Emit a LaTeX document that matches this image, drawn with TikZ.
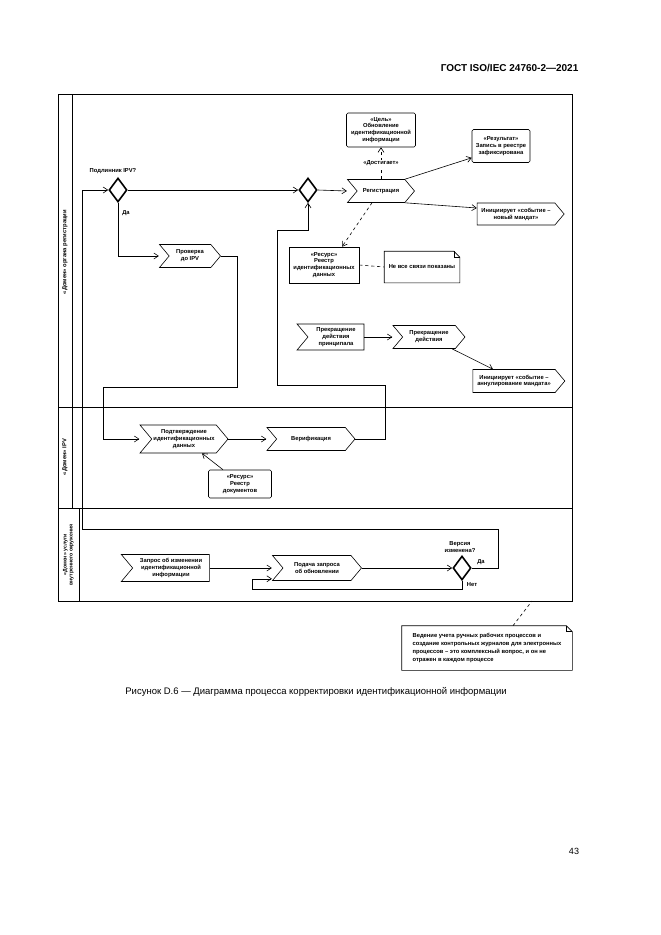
\documentclass[tikz,border=0pt]{standalone}
\usepackage{fontspec}
\setmainfont{Liberation Sans}
\usepackage{tikz}
\usetikzlibrary{shapes.geometric,shapes.symbols,arrows.meta,positioning}
\newcommand{\dfont}{\fontsize{5.8}{6.9}\selectfont\bfseries}
\newcommand{\notefold}[1]{%
  \draw (#1.north west) -- ([xshift=-6pt]#1.north east) -- ([yshift=-6pt]#1.north east) -- (#1.south east) -- (#1.south west) -- cycle;
  \draw ([xshift=-6pt]#1.north east) |- ([yshift=-6pt]#1.north east);}
\tikzset{
  flow/.style={-{Straight Barb[length=4.5pt,width=6pt]}},
  dep/.style={dashed,-{Straight Barb[length=4.5pt,width=6pt]}},
  act/.style={signal, signal from=west, signal to=east, signal pointer angle=100, draw, inner sep=1pt},
  recv/.style={signal, signal from=west, signal to=nowhere, signal pointer angle=100, draw, inner sep=1pt},
  send/.style={signal, signal from=nowhere, signal to=east, signal pointer angle=100, draw, inner sep=1pt},
  obj/.style={draw, rounded corners=1.5pt, inner sep=1pt},
  dec/.style={diamond, draw, line width=1.6pt, inner sep=0pt, minimum width=18pt, minimum height=24pt},
  notebox/.style={inner sep=2pt}
}
\begin{document}
\begin{tikzpicture}[x=1pt,y=-1pt,line width=0.6pt,
    every node/.style={font=\dfont, align=center}]
    \useasboundingbox (0,0) rectangle (661,935);
    \node[anchor=east, font=\fontsize{10}{12}\selectfont\bfseries] (head) at (582,68) {ГОСТ ISO/IEC 24760-2—2021};
    \draw (58,94) rectangle (572,601);
    \draw (72,94) -- (72,508);
    \draw (79,508) -- (79,601);
    \draw (58,407) -- (572,407);
    \draw (58,508) -- (572,508);
    \node[rotate=90] (lane1) at (65,252) {«Домен» органа регистрации};
    \node[rotate=90] (lane2) at (65,457) {«Домен» IPV};
    \node[rotate=90, font=\fontsize{5.2}{6}\selectfont\bfseries] (lane3) at (68.5,555) {«Домен» услуги\\внутреннего окружения};

    \node[dec] (d1) at (118,190) {};
    \node (q1) at (113,171) {Подлинник IPV?};
    \node (yes1) at (126,213) {Да};
    \node[dec] (d2) at (308,190) {};
    \node[act, minimum width=61pt, minimum height=23pt] (chk) at (190,256) {Проверка\\до IPV};
    \node[act, minimum width=67pt, minimum height=23pt] (reg) at (381,191) {Регистрация};
    \node[obj, minimum width=69pt, minimum height=34pt] (goal) at (381,130) {«Цель»\\Обновление\\идентификационной\\информации};
    \node[obj, minimum width=58pt, minimum height=33pt] (result) at (501,146) {«Результат»\\Запись в реестре\\зафиксирована};
    \node[send, minimum width=87pt, minimum height=22pt] (newm) at (516,214) {Инициирует «событие –\\новый мандат»};
    \node[draw, inner sep=1pt, minimum width=70pt, minimum height=36pt] (res1) at (324,265) {«Ресурс»\\Реестр\\идентификационных\\данных};
    \node[notebox, minimum width=75pt, minimum height=31pt] (note1) at (422,267) {Не все связи показаны};
    \notefold{note1}
    \node[recv, minimum width=67pt, minimum height=26pt] (term) at (336,337) {Прекращение\\действия\\принципала};
    \node[act, minimum width=72pt, minimum height=23pt] (stop) at (429,337) {Прекращение\\действия};
    \node[send, minimum width=92pt, minimum height=23pt] (cancel) at (514,381) {Инициирует «событие –\\аннулирование мандата»};

    \node[act, minimum width=88pt, minimum height=28pt] (conf) at (184,439) {Подтверждение\\идентификационных\\данных};
    \node[act, minimum width=88pt, minimum height=23pt] (ver) at (311,439) {Верификация};
    \node[obj, minimum width=63pt, minimum height=28pt] (res2) at (240,484) {«Ресурс»\\Реестр\\документов};

    \node[recv, minimum width=88pt, minimum height=27pt] (req) at (171,568) {Запрос об изменении\\идентификационной\\информации};
    \node[act, minimum width=89pt, minimum height=25pt] (sub) at (317,568) {Подача запроса\\об обновлении};
    \node[dec] (d3) at (462,568) {};
    \node (q3) at (460,547) {Версия\\изменена?};
    \node (yes3) at (481,562) {Да};
    \node (no3) at (472,585) {Нет};
    \node[notebox, align=left, minimum width=170pt, minimum height=44pt, font=\fontsize{5.8}{8}\selectfont\bfseries] (note2) at (487,648) {Ведение учета ручных рабочих процессов и\\создание контрольных журналов для электронных\\процессов – это комплексный вопрос, и он не\\отражен в каждом процессе};
    \notefold{note2}
    \coordinate (fb) at (532,601);

    \draw[flow] (d3.east) -| (498,529) -| (82,190) -- (d1.west);
    \draw[flow] (d1.east) -- (d2.west);
    \draw[flow] (d1.south) |- (chk.north west |- chk.west);
    \draw[flow] (chk.east) -| (237,387) -| (103,439) -- (conf.north west |- conf.west);
    \draw[flow] (conf.east) -- (ver.north west |- ver.west);
    \draw[flow] (ver.east) -| (385,385) -| (277,230) -| (d2.south);
    \draw[flow] (d2.east) -- (reg.north west |- reg.west);
    \draw[dep] (reg.north) -- node[fill=white, inner sep=1pt] (reach) {«Достигает»} (goal.south);
    \draw[flow] (reg.north east) -- ([yshift=5pt]result.south west);
    \draw[flow] (reg.south east) -- ([yshift=6pt]newm.west);
    \draw[dep] ([xshift=-9pt]reg.south) -- ([xshift=18pt]res1.north);
    \draw[dashed] (res1.east) -- (note1.west);
    \draw[flow] (term.east) -- (stop.north west |- stop.west);
    \draw[flow] ([xshift=23pt]stop.south) -- ([xshift=-21pt]cancel.north);
    \draw[flow] ([xshift=-17pt]res2.north) -- ([xshift=18pt]conf.south);
    \draw[flow] (req.east) -- (sub.north west |- sub.west);
    \draw[flow] (sub.east) -- (d3.west);
    \draw[flow] (d3.south) |- (252,589) |- ([yshift=2pt]sub.south west);
    \draw[dashed] ([xshift=26pt]note2.north) -- (fb);

    \node[font=\fontsize{9.5}{11}\selectfont] (cap) at (316,692) {Рисунок D.6 — Диаграмма процесса корректировки идентификационной информации};
    \node[font=\fontsize{9}{11}\selectfont] (page) at (574,851) {43};
\end{tikzpicture}
\end{document}
